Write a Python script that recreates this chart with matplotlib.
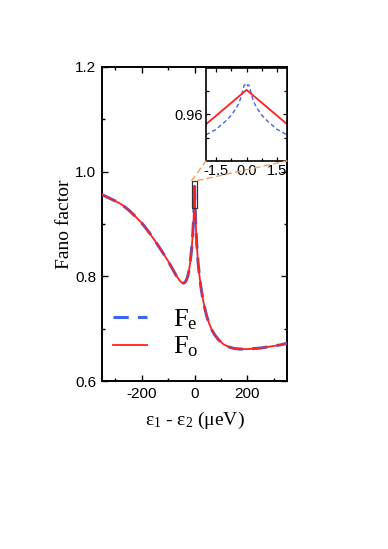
import matplotlib
matplotlib.use("Agg")
import matplotlib.pyplot as plt
from matplotlib.patches import Rectangle, ConnectionPatch
from matplotlib.ticker import MultipleLocator, FixedLocator

plt.rcParams['mathtext.fontset'] = 'custom'
plt.rcParams['mathtext.rm'] = 'Liberation Serif'
plt.rcParams['mathtext.it'] = 'Liberation Serif:italic'

# ---- data ----
eps_main = [-350, -325, -300, -275, -250, -225, -200, -175, -150, -125, -110, -100, -90,
            -80, -70, -62, -55, -50, -46, -42, -38, -34, -30, -26, -22, -18, -14, -11,
            -8, -6, -4, -2.5, -1.2, 0, 1.2, 2.5, 4, 6, 8, 11, 14, 18, 23, 30, 38, 46,
            55, 65, 75, 90, 110, 130, 150, 175, 200, 225, 250, 275, 300, 325, 350]
F_main = [0.956, 0.950, 0.944, 0.937, 0.927, 0.915, 0.902, 0.886, 0.868, 0.849, 0.837,
          0.829, 0.820, 0.811, 0.802, 0.796, 0.791, 0.789, 0.787, 0.787, 0.788, 0.790,
          0.794, 0.800, 0.809, 0.821, 0.838, 0.853, 0.873, 0.889, 0.907, 0.925, 0.946,
          0.972, 0.946, 0.924, 0.905, 0.884, 0.864, 0.841, 0.822, 0.803, 0.783, 0.760,
          0.740, 0.724, 0.710, 0.698, 0.689, 0.679, 0.670, 0.665, 0.662, 0.661, 0.661,
          0.662, 0.663, 0.665, 0.667, 0.669, 0.672]

eps_in = [-2.0, -1.5, -1.0, -0.75, -0.55, -0.4, -0.3, -0.2, -0.12, -0.06, 0.0,
          0.06, 0.12, 0.2, 0.3, 0.4, 0.55, 0.75, 1.0, 1.5, 2.0]
Fe_in = [0.9512, 0.9536, 0.9574, 0.9597, 0.9622, 0.9645, 0.9668, 0.9700, 0.9726, 0.9728,
         0.9720, 0.9728, 0.9726, 0.9700, 0.9668, 0.9645, 0.9622, 0.9597, 0.9574, 0.9536,
         0.9512]
eps_in_o = [-2.0, 0.0, 2.0]
Fo_in = [0.9558, 0.9706, 0.9558]

xticks_main = [-200, 0, 200]
yticks_main = [0.6, 0.8, 1.0, 1.2]
xticks_in = [-1.5, 0.0, 1.5]
yticks_in = [0.96]

blue = '#3f63f2'
red = '#ff1f1f'
orange = '#f5a05a'

fig = plt.figure(figsize=(3.88, 5.49), dpi=100)
ax = fig.add_axes([0.263, 0.306, 0.477, 0.572])

ax.plot(eps_main, F_main, color=blue, lw=2.2, dashes=(5, 3), label=r'F$_\mathrm{e}$', zorder=3)
ax.plot(eps_main, F_main, color=red, lw=1.3, label=r'F$_\mathrm{o}$', zorder=4)

ax.set_xlim(-350, 350)
ax.set_ylim(0.6, 1.2)
ax.set_xticks(xticks_main)
ax.set_yticks(yticks_main)
ax.xaxis.set_minor_locator(MultipleLocator(100))
ax.yaxis.set_minor_locator(MultipleLocator(0.1))
ax.set_yticklabels([f'{v:.1f}' for v in yticks_main])
ax.set_xticklabels([str(v) for v in xticks_main])
ax.tick_params(which='both', direction='in', top=True, right=True, width=1.0)
ax.tick_params(which='major', length=4, labelsize=11, pad=4)
ax.tick_params(which='minor', length=2.5)
for lab in ax.get_xticklabels() + ax.get_yticklabels():
    lab.set_fontfamily('Liberation Sans')
for s in ax.spines.values():
    s.set_linewidth(1.4)

ax.set_ylabel('Fano factor', fontfamily='Liberation Serif', fontsize=14, labelpad=2)
ax.set_xlabel(r'ε$_\mathrm{1}$ - ε$_\mathrm{2}$ (μeV)', fontfamily='Liberation Serif',
              fontsize=14, labelpad=7)

leg = ax.legend(loc='lower left', frameon=False, prop={'family': 'Liberation Serif', 'size': 19},
                handlelength=1.3, handletextpad=1.0, labelspacing=0.1,
                borderaxespad=0.0, bbox_to_anchor=(0.0, 0.035))

rect = Rectangle((-11, 0.930), 22, 0.053, fill=False, edgecolor='#333333', lw=0.9, zorder=5)
ax.add_patch(rect)

axin = fig.add_axes([0.531, 0.707, 0.209, 0.169])
axin.plot(eps_in, Fe_in, color=blue, lw=1.0, dashes=(3, 2))
axin.plot(eps_in_o, Fo_in, color=red, lw=1.3)
axin.set_xlim(-2, 2)
axin.set_ylim(0.94, 0.98)
axin.set_xticks(xticks_in)
axin.set_xticklabels(['-1.5', '0.0', '1.5'])
axin.set_yticks(yticks_in)
axin.set_yticklabels(['0.96'])
axin.xaxis.set_minor_locator(FixedLocator([-0.75, 0.75]))
axin.yaxis.set_minor_locator(FixedLocator([0.95, 0.97]))
axin.tick_params(which='both', direction='in', top=True, right=True, width=0.9)
axin.tick_params(which='major', length=3, labelsize=10.5, pad=2)
axin.tick_params(which='minor', length=2)
for lab in axin.get_xticklabels() + axin.get_yticklabels():
    lab.set_fontfamily('Liberation Sans')
for s in axin.spines.values():
    s.set_linewidth(1.2)

for xa, xb in [(-11, 0.0), (11, 1.0)]:
    con = ConnectionPatch(xyA=(xa, 0.983), coordsA=ax.transData,
                          xyB=(xb, 0.0), coordsB=axin.transAxes,
                          color=orange, lw=1.0, linestyle=(0, (4, 3)), zorder=6)
    fig.add_artist(con)

fig.savefig('out.png', dpi=100)
